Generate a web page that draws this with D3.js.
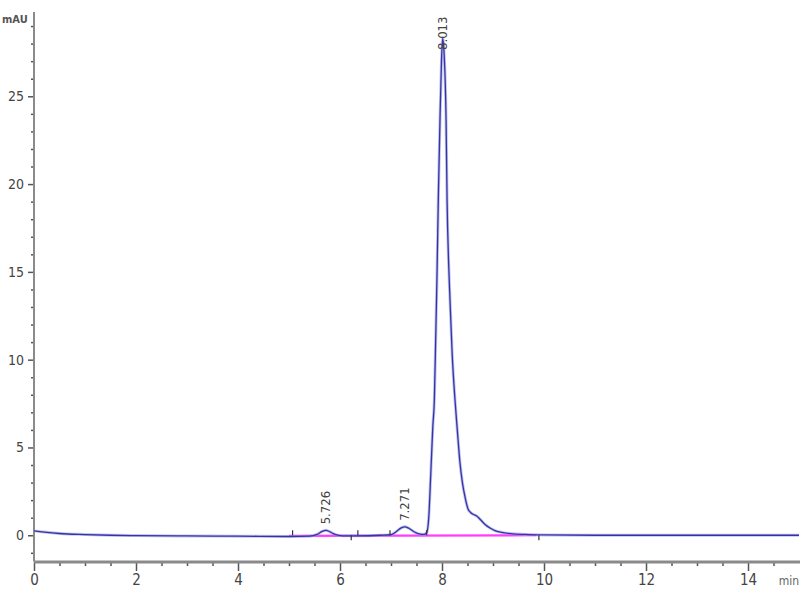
<!DOCTYPE html>
<html><head><meta charset="utf-8">
<script src="https://cdn.jsdelivr.net/npm/d3@7"></script>
<style>body{margin:0;background:#fff}svg{display:block}</style>
</head><body>
<svg id="c" width="800" height="600"></svg>
<script>
// Chromatogram trace (retention time in min, signal in mAU)
const times = [0,0.2,0.5,1,1.5,2,3,4,5,5.4,5.55,5.65,5.726,5.8,5.9,6.05,6.3,6.8,7.0,7.1,7.2,7.271,7.35,7.45,7.55,7.65,7.70,7.74,7.78,7.82,7.85,7.875,7.9,7.93,7.96,7.99,8.013,8.04,8.08,8.10,8.13,8.157,8.2,8.255,8.3,8.35,8.4,8.45,8.51,8.56,8.62,8.68,8.75,8.85,8.95,9.05,9.2,9.4,9.7,10,11,12,13,14,15];
const signal = [0.25,0.18,0.1,0.04,0.0,-0.02,-0.04,-0.05,-0.07,-0.05,0.05,0.22,0.28,0.2,0.05,-0.03,-0.03,0.0,0.03,0.2,0.42,0.48,0.4,0.2,0.08,0.05,0.15,1.0,3.5,6.2,7.7,11.0,14.5,19.5,23.6,27.0,28.3,27.5,23.6,19.0,15.5,13.4,10.3,7.7,6.0,4.2,3.0,2.2,1.5,1.3,1.18,1.1,0.9,0.6,0.4,0.25,0.15,0.08,0.04,0.02,0.0,0.0,0.0,0.0,0.0];
const peakTimes = [5.726, 7.271, 8.013];
const peakHeights = [0.28, 0.48, 28.3];
const peakLabels = ["5.726", "7.271", "8.013"];
const baselineTimes = [5.0, 9.85];
const baselineValues = [-0.03, 0.0];
const boundaryTimes = [5.07, 6.22, 6.35, 6.98, 7.70, 9.9];
const boundaryDir = [1, -1, 1, 1, 1, -1];
const xTicks = [0, 2, 4, 6, 8, 10, 12, 14];
const yTicks = [0, 5, 10, 15, 20, 25];

const svg = d3.select("#c");
const x = d3.scaleLinear().domain([0, 15]).range([34, 799]);
const y = d3.scaleLinear().domain([-1.5, 29.8]).range([561.6, 12]);
const font = "'Liberation Sans Narrow','Arial Narrow','DejaVu Sans Condensed','Liberation Sans',Arial,sans-serif";
const axisCol = "#8a8a8a";

// Y axis
const yAxis = svg.append("g").attr("transform", "translate(34,0)")
  .call(d3.axisLeft(y).tickValues(yTicks).tickSize(6).tickPadding(4));
yAxis.select(".domain").remove();
yAxis.selectAll("line").attr("stroke", "#555").attr("stroke-width", 1.5);
yAxis.selectAll("text").attr("font-family", font).attr("font-size", 14).attr("fill", "#444");
const yMinor = svg.append("g").attr("transform", "translate(34,0)")
  .call(d3.axisLeft(y).tickValues(d3.range(-1, 30, 1).filter(v => v % 5 !== 0)).tickSize(3).tickFormat(""));
yMinor.select(".domain").remove();
yMinor.selectAll("line").attr("stroke", "#555").attr("stroke-width", 1.5);
svg.append("line").attr("x1", 34).attr("x2", 34).attr("y1", y.range()[1]).attr("y2", y.range()[0])
  .attr("stroke", axisCol).attr("stroke-width", 2);

// X axis
const xAxis = svg.append("g").attr("transform", "translate(0,562)")
  .call(d3.axisBottom(x).tickValues(xTicks).tickSize(9).tickPadding(3));
xAxis.select(".domain").remove();
xAxis.selectAll("line").attr("stroke", "#555").attr("stroke-width", 1.5);
xAxis.selectAll("text").attr("font-family", font).attr("font-size", 15).attr("fill", "#444");
const xMinor = svg.append("g").attr("transform", "translate(0,562)")
  .call(d3.axisBottom(x).tickValues(d3.range(0.5, 15, 0.5).filter(v => v % 2 !== 0)).tickSize(4).tickFormat(""));
xMinor.select(".domain").remove();
xMinor.selectAll("line").attr("stroke", "#555").attr("stroke-width", 1.5);
svg.append("line").attr("x1", 34).attr("x2", 800).attr("y1", 562).attr("y2", 562)
  .attr("stroke", axisCol).attr("stroke-width", 3);

svg.append("text").attr("x", 2).attr("y", 23).text("mAU")
  .attr("font-family", font).attr("font-size", 11).attr("font-weight", "bold").attr("fill", "#555");
svg.append("text").attr("x", 799).attr("y", 585).attr("text-anchor", "end").text("min")
  .attr("font-family", font).attr("font-size", 12).attr("fill", "#666");

// Integration baseline
svg.append("path").datum(baselineTimes.map((t, i) => [t, baselineValues[i]]))
  .attr("d", d3.line().x(d => x(d[0])).y(d => y(d[1])))
  .attr("stroke", "#ff3cff").attr("stroke-width", 2.2).attr("fill", "none");

// Trace
const line = d3.line().x((d, i) => x(times[i])).y(d => y(d)).curve(d3.curveMonotoneX);
svg.append("path").datum(signal).attr("d", line)
  .attr("stroke", "#9a9ae0").attr("stroke-width", 3).attr("fill", "none").attr("opacity", 0.6);
svg.append("path").datum(signal).attr("d", line)
  .attr("stroke", "#3434a8").attr("stroke-width", 1.3).attr("fill", "none");

// Boundary markers
svg.selectAll(".bm").data(boundaryTimes).enter().append("line")
  .attr("x1", d => x(d)).attr("x2", d => x(d))
  .attr("y1", y(0)).attr("y2", (d, i) => y(0) - boundaryDir[i] * 5)
  .attr("stroke", "#333").attr("stroke-width", 1.2);

// Peak labels
svg.selectAll(".pl").data(peakTimes).enter().append("text")
  .attr("transform", (d, i) => {
    const yy = Math.max(y(peakHeights[i]) - 6, 50);
    return `translate(${x(d) + 4},${yy}) rotate(-90)`;
  })
  .text((d, i) => peakLabels[i])
  .attr("font-family", font).attr("font-size", 13).attr("fill", "#444");
</script>
</body></html>
